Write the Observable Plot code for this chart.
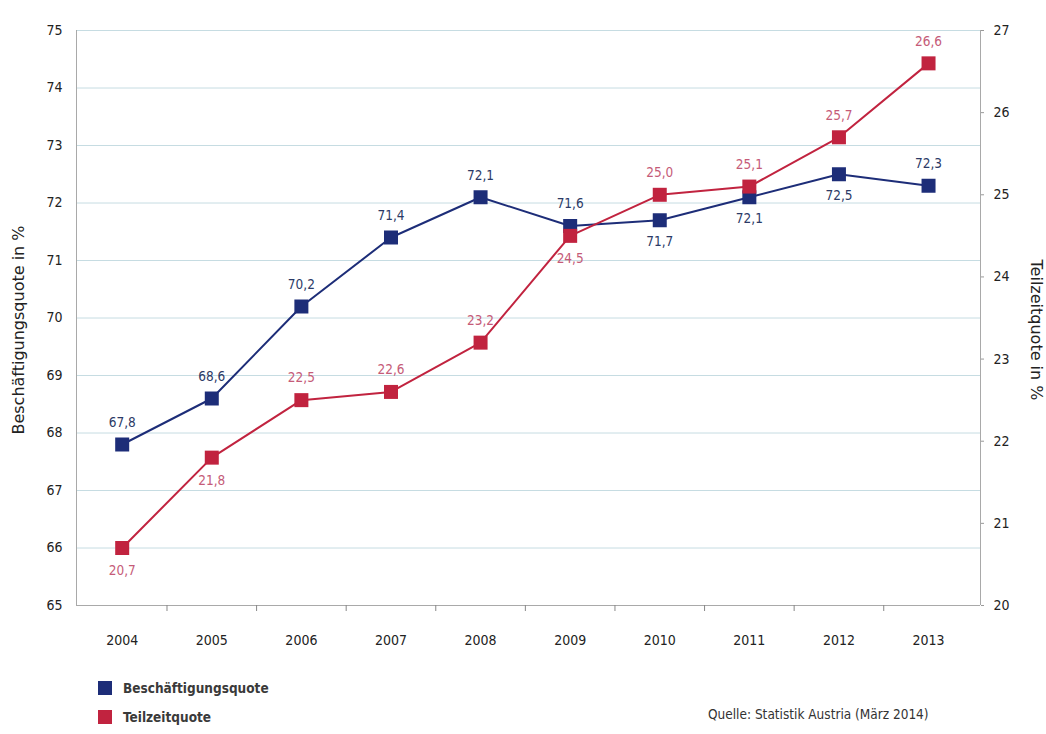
<!DOCTYPE html>
<html>
<head>
<meta charset="utf-8">
<script src="https://cdn.jsdelivr.net/npm/d3@7"></script>
<script src="https://cdn.jsdelivr.net/npm/@observablehq/plot@0.6"></script>
<style>
  body { margin: 0; background: #fff; font-family: "DejaVu Sans Condensed", "DejaVu Sans", sans-serif; }
  #wrap { position: relative; width: 1046px; height: 734px; }
  .legend { position: absolute; left: 98px; font-size: 13.5px; font-weight: bold; color: #3a3a3a; display: flex; align-items: center; }
  .legend .sw { width: 14px; height: 14px; margin-right: 11px; }
  #source { position: absolute; left: 708px; top: 706px; font-size: 13.5px; color: #333; }
</style>
</head>
<body>
<div id="wrap">
  <div id="chart"></div>
  <div class="legend" style="top:680px"><span class="sw" style="background:#1d2d78"></span>Beschäftigungsquote</div>
  <div class="legend" style="top:709px"><span class="sw" style="background:#c1233f"></span>Teilzeitquote</div>
  <div id="source">Quelle: Statistik Austria (März 2014)</div>
</div>
<script>
// Employment rate (left axis) and part-time rate (right axis), Austria
const years = [2004, 2005, 2006, 2007, 2008, 2009, 2010, 2011, 2012, 2013];
const beschaeftigung = [67.8, 68.6, 70.2, 71.4, 72.1, 71.6, 71.7, 72.1, 72.5, 72.3];
const teilzeit = [20.7, 21.8, 22.5, 22.6, 23.2, 24.5, 25.0, 25.1, 25.7, 26.6];
const leftTicks = [65, 66, 67, 68, 69, 70, 71, 72, 73, 74, 75];
const rightTicks = [20, 21, 22, 23, 24, 25, 26, 27];

// label placement: 1 = above the marker, -1 = below
const blueSide = [1, 1, 1, 1, 1, 1, -1, -1, -1, 1];
const redSide = [-1, -1, 1, 1, 1, -1, 1, 1, 1, 1];

const BLUE = "#1d2d78", RED = "#c1233f";
const BLUE_TXT = "#2c3a66", RED_TXT = "#c55b78";

// the right axis (20–27) is mapped onto the left scale (65–75)
const toLeft = v => 65 + (v - 20) * 10 / 7;
const fmt = v => v.toFixed(1).replace(".", ",");

const blue = years.map((y, i) => ({year: y, v: beschaeftigung[i], y: beschaeftigung[i], side: blueSide[i]}));
const red = years.map((y, i) => ({year: y, v: teilzeit[i], y: toLeft(teilzeit[i]), side: redSide[i]}));

const chart = Plot.plot({
  width: 1046,
  height: 665,
  marginLeft: 76,
  marginRight: 66,
  marginTop: 30,
  marginBottom: 60,
  style: {fontFamily: "DejaVu Sans Condensed, DejaVu Sans, sans-serif", fontSize: "13px", color: "#222"},
  x: {domain: [2003.49, 2013.58], label: null},
  y: {domain: [65, 75], label: null},
  marks: [
    Plot.ruleY(leftTicks.filter(t => t > 65), {stroke: "#c6dce2", strokeWidth: 1}),
    Plot.ruleY([65], {stroke: "#a9a9a9"}),
    Plot.ruleX([2003.49], {stroke: "#a9a9a9"}),
    Plot.ruleX([2013.58], {stroke: "#a9a9a9"}),
    Plot.axisY({ticks: leftTicks, tickSize: 0, tickPadding: 14, label: null, fontSize: 14}),
    Plot.axisY({anchor: "right", ticks: rightTicks.map(toLeft), tickFormat: d => String(Math.round(20 + (d - 65) * 7 / 10)),
                tickSize: 3, tickPadding: 10, label: null, fontSize: 14, stroke: "#999"}),
    Plot.axisX({ticks: years, tickFormat: d => String(d), tickSize: 0, tickPadding: 30, label: null, fontSize: 14}),
    Plot.axisX({ticks: years.slice(0, -1).map(y => y + 0.5), tickFormat: () => "", tickSize: 6, label: null, stroke: "#888"}),
    Plot.text(["Beschäftigungsquote in %"], {frameAnchor: "left", textAnchor: "middle", dx: -58, dy: 12, rotate: -90,
                fontSize: 16, fontFamily: "DejaVu Sans, sans-serif", fill: "#222"}),
    Plot.text(["Teilzeitquote in %"], {frameAnchor: "right", textAnchor: "middle", dx: 56, dy: 12, rotate: 90,
                fontSize: 16, fontFamily: "DejaVu Sans, sans-serif", fill: "#222"}),
    Plot.line(blue, {x: "year", y: "y", stroke: BLUE, strokeWidth: 2}),
    Plot.line(red, {x: "year", y: "y", stroke: RED, strokeWidth: 2}),
    Plot.dot(blue, {x: "year", y: "y", symbol: "square", r: 7.9, fill: BLUE, stroke: "none"}),
    Plot.dot(red, {x: "year", y: "y", symbol: "square", r: 7.9, fill: RED, stroke: "none"}),
    Plot.text(blue.filter(d => d.side > 0), {x: "year", y: "y", text: d => fmt(d.v), dy: -22, fill: BLUE_TXT, fontSize: 13.5}),
    Plot.text(blue.filter(d => d.side < 0), {x: "year", y: "y", text: d => fmt(d.v), dy: 21, fill: BLUE_TXT, fontSize: 13.5}),
    Plot.text(red.filter(d => d.side > 0), {x: "year", y: "y", text: d => fmt(d.v), dy: -22, fill: RED_TXT, fontSize: 13.5}),
    Plot.text(red.filter(d => d.side < 0), {x: "year", y: "y", text: d => fmt(d.v), dy: 23, fill: RED_TXT, fontSize: 13.5})
  ]
});
document.getElementById("chart").append(chart);
</script>
</body>
</html>
